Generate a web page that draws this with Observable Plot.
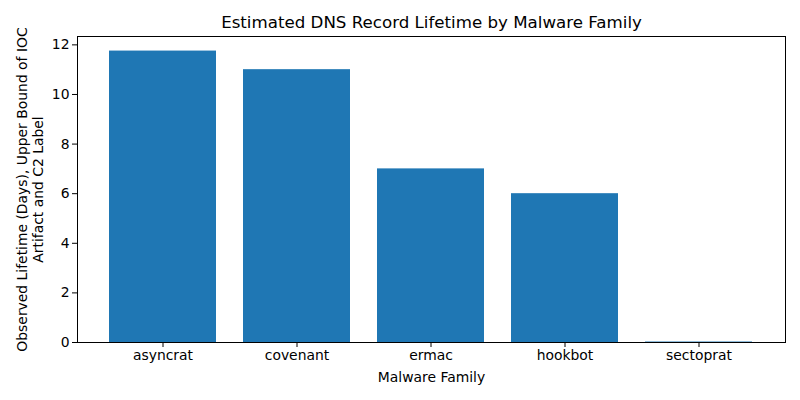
<!DOCTYPE html>
<html>
<head>
<meta charset="utf-8">
<script src="https://cdn.jsdelivr.net/npm/d3@7"></script>
<script src="https://cdn.jsdelivr.net/npm/@observablehq/plot@0.6"></script>
<style>
  html, body { margin: 0; padding: 0; background: #fff; }
  svg { font-family: "DejaVu Sans", sans-serif; }
</style>
</head>
<body>
<div id="chart"></div>
<script>
const families = ["asyncrat", "covenant", "ermac", "hookbot", "sectoprat"];
const lifetimes = [11.75, 11.0, 7.0, 6.0, 0.02];
const yTicks = [0, 2, 4, 6, 8, 10, 12];
const title = "Estimated DNS Record Lifetime by Malware Family";
const xLabel = "Malware Family";
const yLabel = "Observed Lifetime (Days), Upper Bound of IOC\nArtifact and C2 Label";

const data = families.map((f, i) => ({family: f, value: lifetimes[i]}));

const chart = Plot.plot({
  width: 800,
  height: 400,
  marginLeft: 77,
  marginRight: 15,
  marginTop: 36,
  marginBottom: 58,
  style: {fontFamily: "DejaVu Sans, sans-serif", fontSize: "13.9px", color: "#000", background: "#fff"},
  x: {domain: families, paddingInner: 0.2, paddingOuter: 0.24, label: null},
  y: {domain: [0, 12.3375], label: null},
  marks: [
    Plot.barY(data, {x: "family", y: "value", fill: "#1f77b4"}),
    Plot.frame({stroke: "#000", strokeWidth: 1}),
    Plot.axisX({tickSize: 5, tickPadding: 3, fontSize: 13.9, label: null}),
    Plot.axisY({ticks: yTicks, tickSize: 5, tickPadding: 3, fontSize: 13.9, label: null}),
    Plot.text([title], {frameAnchor: "top", lineAnchor: "middle", dy: -14, fontSize: 16.67, text: d => d}),
    Plot.text([xLabel], {frameAnchor: "bottom", lineAnchor: "middle", dy: 35, fontSize: 13.9, text: d => d}),
    Plot.text([yLabel], {frameAnchor: "left", textAnchor: "middle", lineAnchor: "middle", dx: -48, rotate: -90, fontSize: 13.9, lineHeight: 1.15, text: d => d})
  ]
});
document.getElementById("chart").appendChild(chart);
</script>
</body>
</html>
